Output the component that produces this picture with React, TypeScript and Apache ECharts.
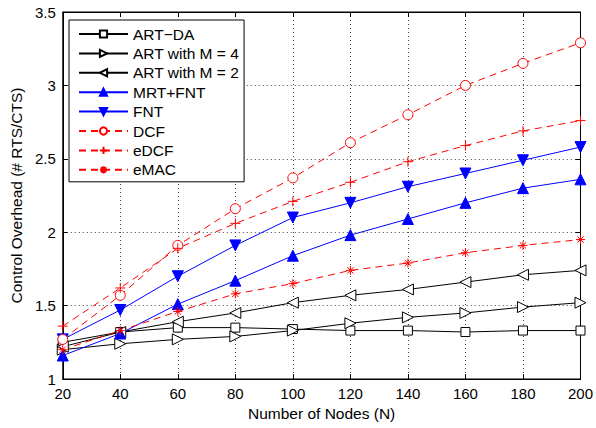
import React, { useEffect, useRef } from "react";
import * as echarts from "echarts";

const nodes = [20, 40, 60, 80, 100, 120, 140, 160, 180, 200];
const artDA = [1.25, 1.32, 1.35, 1.35, 1.34, 1.33, 1.33, 1.32, 1.33, 1.33];
const artM4 = [1.2, 1.24, 1.27, 1.29, 1.33, 1.38, 1.42, 1.45, 1.49, 1.52];
const artM2 = [1.22, 1.32, 1.39, 1.45, 1.52, 1.57, 1.61, 1.66, 1.71, 1.74];
const mrtFnt = [1.16, 1.31, 1.51, 1.67, 1.84, 1.98, 2.09, 2.2, 2.3, 2.36];
const fnt = [1.27, 1.47, 1.7, 1.91, 2.1, 2.2, 2.31, 2.4, 2.49, 2.58];
const dcf = [1.27, 1.57, 1.91, 2.16, 2.37, 2.61, 2.8, 3.0, 3.15, 3.29];
const edcf = [1.36, 1.62, 1.89, 2.06, 2.21, 2.34, 2.48, 2.59, 2.69, 2.76];
const emac = [1.2, 1.33, 1.46, 1.58, 1.65, 1.74, 1.79, 1.86, 1.91, 1.95];

const FONT = "Liberation Sans, Arial, sans-serif";

const pts = (v: number[]) => nodes.map((x, i) => [x, v[i]]);

export default function App() {
  const ref = useRef<HTMLDivElement>(null);
  useEffect(() => {
    if (!ref.current) return;
    const chart = echarts.init(ref.current, undefined, { renderer: "svg" });
    const black = "#000";
    const blue = "#0000ff";
    const red = "#ff0000";
    const dash = [7, 5];
    const mk = (
      name: string,
      data: number[],
      color: string,
      symbol: string,
      size: number,
      fill: string,
      dashed: boolean,
      rotate = 0
    ) => ({
      name,
      type: "line",
      data: pts(data),
      symbol,
      symbolSize: size,
      symbolRotate: rotate,
      showAllSymbol: true,
      lineStyle: { color, width: 1, type: dashed ? dash : "solid" },
      itemStyle: { color: fill, borderColor: color, borderWidth: 1 },
      emphasis: { disabled: true },
      z: 3,
    });
    const gridLine = { show: true, lineStyle: { color: "#444", type: [1, 3], width: 1 } };
    chart.setOption({
      animation: false,
      backgroundColor: "#fff",
      grid: {
        left: 61,
        right: 13,
        top: 12,
        bottom: 49,
        show: true,
        borderColor: black,
        borderWidth: 1,
      },
      xAxis: [
        {
          type: "value",
          min: 20,
          max: 200,
          interval: 20,
          name: "Number of Nodes (N)",
          nameLocation: "middle",
          nameGap: 26,
          nameTextStyle: { fontFamily: FONT, fontSize: 15.5, color: black },
          axisLine: { show: true, lineStyle: { color: black } },
          axisTick: { show: true, inside: true, length: 5, lineStyle: { color: black } },
          axisLabel: { fontFamily: FONT, fontSize: 15, color: black, margin: 7 },
          splitLine: gridLine,
        },
        {
          type: "value",
          min: 20,
          max: 200,
          interval: 20,
          position: "top",
          axisLine: { show: true, lineStyle: { color: black } },
          axisTick: { show: true, inside: true, length: 5, lineStyle: { color: black } },
          axisLabel: { show: false },
          splitLine: { show: false },
        },
      ],
      yAxis: [
        {
          type: "value",
          min: 1,
          max: 3.5,
          interval: 0.5,
          name: "Control Overhead (# RTS/CTS)",
          nameLocation: "middle",
          nameGap: 35,
          nameTextStyle: { fontFamily: FONT, fontSize: 15.5, color: black },
          axisLine: { show: true, lineStyle: { color: black } },
          axisTick: { show: true, inside: true, length: 5, lineStyle: { color: black } },
          axisLabel: { fontFamily: FONT, fontSize: 15, color: black, margin: 7 },
          splitLine: gridLine,
        },
        {
          type: "value",
          min: 1,
          max: 3.5,
          interval: 0.5,
          position: "right",
          axisLine: { show: true, lineStyle: { color: black } },
          axisTick: { show: true, inside: true, length: 5, lineStyle: { color: black } },
          axisLabel: { show: false },
          splitLine: { show: false },
        },
      ],
      legend: {
        orient: "vertical",
        left: 69,
        top: 20,
        padding: [6, 5, 4, 9],
        itemWidth: 49,
        itemHeight: 9,
        itemGap: 3.4,
        backgroundColor: "#fff",
        borderColor: black,
        borderWidth: 1,
        borderRadius: 0,
        textStyle: { fontFamily: FONT, fontSize: 15.5, color: black, lineHeight: 16 },
        data: ["ART\u2212DA", "ART with M = 4", "ART with M = 2", "MRT+FNT", "FNT", "DCF", "eDCF", "eMAC"],
      },
      series: [
        mk("ART\u2212DA", artDA, black, "rect", 9, "#fff", false),
        mk("ART with M = 4", artM4, black, "path://M0,0L10,5L0,10Z", 11, "#fff", false),
        mk("ART with M = 2", artM2, black, "path://M10,0L0,5L10,10Z", 11, "#fff", false),
        mk("MRT+FNT", mrtFnt, blue, "triangle", 11, blue, false),
        mk("FNT", fnt, blue, "triangle", 11, blue, false, 180),
        mk("DCF", dcf, red, "circle", 10, "#fff", true),
        mk("eDCF", edcf, red, "path://M5,0L5,10M0,5L10,5", 10, "none", true),
        mk("eMAC", emac, red, "path://M5,0L5,10M0,5L10,5M1.5,1.5L8.5,8.5M8.5,1.5L1.5,8.5", 9, "none", true),
      ],
    });
    return () => chart.dispose();
  }, []);
  return <div ref={ref} style={{ width: 596, height: 428, position: "absolute", left: 0, top: 0 }} />;
}
